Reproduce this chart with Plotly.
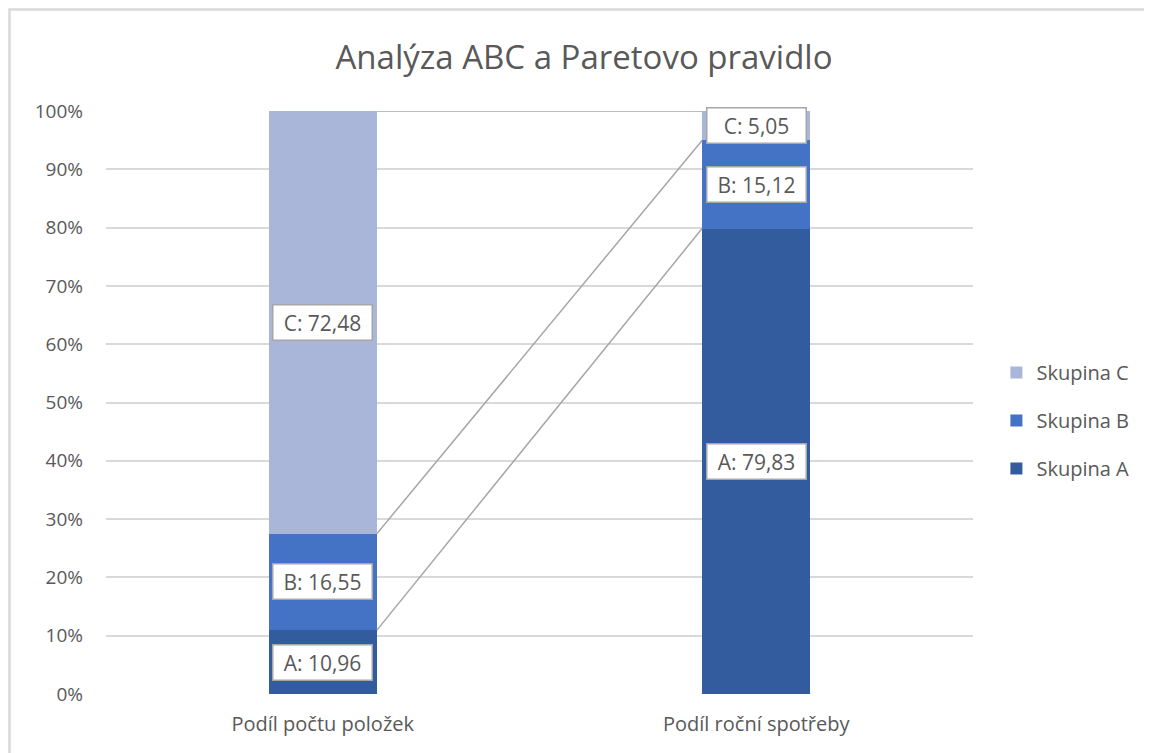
import plotly.graph_objects as go

categories = ["Podíl počtu položek", "Podíl roční spotřeby"]
series_names = ["Skupina A", "Skupina B", "Skupina C"]
label_prefix = ["A", "B", "C"]
values_A = [10.96, 79.83]
values_B = [16.55, 15.12]
values_C = [72.48, 5.05]
colors = ["#335C9F", "#4472C4", "#A9B6DA"]
yticks = [0, 10, 20, 30, 40, 50, 60, 70, 80, 90, 100]

series = [values_A, values_B, values_C]
xpos = list(range(len(categories)))
bar_w = 0.25
font_fam = "Open Sans, Liberation Sans, sans-serif"
gray = "#595959"

fig = go.Figure()
for k, (name, vals, col) in enumerate(zip(series_names, series, colors)):
    fig.add_trace(go.Bar(x=xpos, y=vals, name=name, legendgroup=name,
                         legendrank=len(series_names) - k,
                         marker=dict(color=col, line=dict(width=0)),
                         width=bar_w, hoverinfo="skip"))

# series lines + labels
base = [0.0] * len(categories)
annotations = []
for pre, vals in zip(label_prefix, series):
    tops = [b + v for b, v in zip(base, vals)]
    for i in range(len(categories) - 1):
        fig.add_trace(go.Scatter(x=[xpos[i] + bar_w / 2, xpos[i + 1] - bar_w / 2],
                                 y=[tops[i], tops[i + 1]], mode="lines",
                                 line=dict(color="#A6A6A6", width=1.5),
                                 showlegend=False, hoverinfo="skip"))
    for i, v in enumerate(vals):
        annotations.append(dict(x=xpos[i], y=base[i] + v / 2, xref="x", yref="y",
                                text=f"{pre}: {v:.2f}".replace(".", ","), showarrow=False,
                                font=dict(family=font_fam, size=21, color=gray),
                                bgcolor="white", bordercolor="#A6A6A6", borderwidth=1.5,
                                borderpad=3, width=92))
    base = tops

# page body has an 8px offset; plot area target: x 106..973, y 111..694
fig.update_layout(
    width=1152, height=753, autosize=False,
    margin=dict(l=98, r=187, t=103, b=67),
    plot_bgcolor="white", paper_bgcolor="white",
    barmode="stack",
    title=dict(text="Analýza ABC a Paretovo pravidlo", x=0.5, xanchor="center",
               y=1 - 49 / 753, yanchor="middle", xref="container",
               font=dict(family=font_fam, size=33, color=gray)),
    xaxis=dict(range=[-0.5, 1.5], tickvals=xpos, ticktext=categories, showgrid=False,
               zeroline=False, showline=False, ticks="", ticklabelstandoff=16,
               tickfont=dict(family=font_fam, size=20, color=gray)),
    yaxis=dict(range=[0, 100], tickvals=yticks, ticktext=[f"{t}%" for t in yticks],
               showgrid=True, gridcolor="#D9D9D9", gridwidth=1.5, zeroline=False,
               showline=False, ticks="", ticklabelstandoff=22,
               tickfont=dict(family=font_fam, size=19, color=gray)),
    legend=dict(traceorder="grouped", x=1.027, xanchor="left", y=0.469,
                yanchor="middle", font=dict(family=font_fam, size=20, color=gray),
                itemwidth=30, tracegroupgap=19),
    annotations=annotations,
    shapes=[dict(type="rect", xref="paper", yref="paper",
                 x0=(9.5 - 106) / 867, x1=1.3, y0=-0.2, y1=(694 - 9.5) / 583,
                 line=dict(color="#D9D9D9", width=2.5), layer="below")],
    showlegend=True,
)
fig.write_html("out.html")
